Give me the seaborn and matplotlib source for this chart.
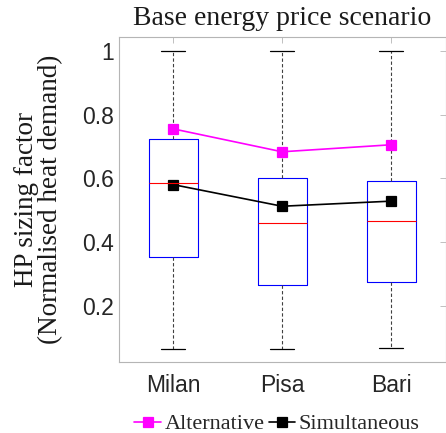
import matplotlib
matplotlib.use("Agg")
import matplotlib.pyplot as plt
import seaborn as sns
import pandas as pd
import numpy as np

# ---- data ----
cities = ["Milan", "Pisa", "Bari"]
# five-number summaries per city: lower whisker, Q1, median, Q3, upper whisker
milan_vals = [0.065, 0.353, 0.586, 0.724, 1.0]
pisa_vals = [0.065, 0.265, 0.458, 0.601, 1.0]
bari_vals = [0.066, 0.273, 0.465, 0.590, 1.0]
alternative = [0.755, 0.683, 0.705]
simultaneous = [0.580, 0.512, 0.528]
yticks = [0.2, 0.4, 0.6, 0.8, 1.0]
ytick_labels = ["0.2", "0.4", "0.6", "0.8", "1"]

sns.set_style("white")
plt.rcParams["font.family"] = ["Liberation Sans", "DejaVu Sans"]

df = pd.DataFrame({
    "city": np.repeat(cities, 5),
    "value": milan_vals + pisa_vals + bari_vals,
})

fig = plt.figure(figsize=(4.46, 4.33), dpi=100)
ax = fig.add_axes([0.266, 0.164, 0.733, 0.751])

sns.boxplot(
    data=df, x="city", y="value", order=cities, ax=ax,
    fill=False, width=0.45, whis=(0, 100), showfliers=False, linewidth=0.8,
    boxprops=dict(color="blue", linewidth=0.8),
    whiskerprops=dict(color="#404040", linestyle=(0, (3, 2)), linewidth=0.8),
    capprops=dict(color="black", linewidth=0.9),
    medianprops=dict(color="red", linewidth=0.8),
)

sns.pointplot(x=cities, y=alternative, ax=ax, color="magenta", marker="s",
              markersize=7, linewidth=1.2, label="Alternative")
sns.pointplot(x=cities, y=simultaneous, ax=ax, color="black", marker="s",
              markersize=7, linewidth=1.2, label="Simultaneous")

handles, labels = ax.get_legend_handles_labels()
if ax.get_legend() is not None:
    ax.get_legend().remove()

ax.set_xlim(-0.5, 2.5)
ax.set_ylim(0.023, 1.044)
ax.set_yticks(yticks)
ax.set_yticklabels(ytick_labels)
ax.set_xlabel("")
ax.set_ylabel("HP sizing factor\n(Normalised heat demand)",
              family="Liberation Serif", fontsize=19.5, color="#1a1a1a",
              linespacing=0.92)
ax.yaxis.set_label_coords(-0.171, 0.5)
ax.set_title("Base energy price scenario", family="Liberation Serif",
             fontsize=20, color="#1a1a1a", pad=8.5)

for s in ax.spines.values():
    s.set_color("#b5b5b5")
    s.set_linewidth(0.8)
ax.tick_params(axis="both", direction="in", length=4, width=0.6, color="#b5b5b5",
               top=True, right=True, labelsize=16.5, labelcolor="#262626")
ax.tick_params(axis="y", pad=3.5)
ax.tick_params(axis="x", pad=9)

leg = fig.legend(handles, labels, loc="lower center",
                 bbox_to_anchor=(0.621, -0.003), ncol=2,
                 frameon=False, handlelength=1.2, handletextpad=0.15,
                 columnspacing=0.2, borderaxespad=0, borderpad=0,
                 prop={"family": "Liberation Serif", "size": 16})

fig.savefig("out.png", dpi=100)
